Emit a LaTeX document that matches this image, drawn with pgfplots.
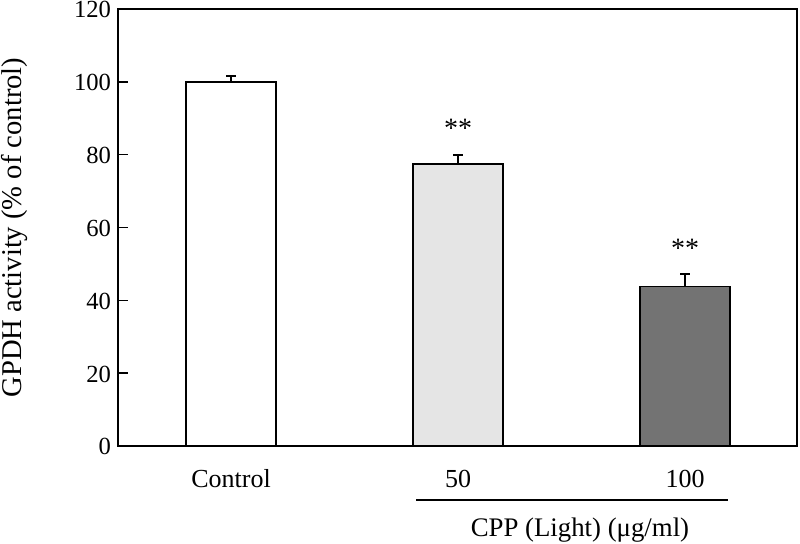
\documentclass[border=0pt]{standalone}
\usepackage{pgfplots}
\pgfplotsset{compat=1.18}
\usepackage{fontspec}
\setmainfont{Liberation Serif}
\begin{document}
\begin{tikzpicture}
\useasboundingbox (-59pt,-48.5pt) rectangle (341pt,223pt);
\begin{axis}[
  scale only axis,
  width=339.5pt, height=218.5pt,
  xmin=-0.498, xmax=2.493,
  ymin=0, ymax=120,
  ytick={0,20,40,60,80,100,120},
  xtick={0,1,2},
  xticklabels={Control,50,100},
  major x tick style={draw=none},
  ytick pos=left,
  tick align=inside,
  major tick length=5pt,
  axis line style={line width=0.8pt},
  every tick/.style={black, line width=0.7pt},
  /pgf/number format/assume math mode=true,
  yticklabel style={font=\fontsize{12.3}{14}\selectfont, yshift=-0.4pt},
  xticklabel style={font=\fontsize{13}{15}\selectfont, anchor=base, yshift=-20.5pt},
  ylabel={GPDH activity (\% of control)},
  ylabel style={at={(axis description cs:-0.152,0.5)}, anchor=center, rotate=0, font=\fontsize{14.3}{16}\selectfont},
  clip=false,
  bar width=0.396,
]
\addplot[ybar, draw=black, line width=0.75pt, fill=white,
  error bars/.cd, y dir=plus, y explicit,
  error bar style={line width=0.8pt},
  error mark options={rotate=90, mark size=2.5pt, line width=0.9pt}]
  coordinates {(0,100) +- (0,1.5)};
\addplot[ybar, draw=black, line width=0.75pt, fill=black!10,
  error bars/.cd, y dir=plus, y explicit,
  error bar style={line width=0.8pt},
  error mark options={rotate=90, mark size=2.5pt, line width=0.9pt}]
  coordinates {(1,77.5) +- (0,2.4)};
\addplot[ybar, draw=black, line width=0.75pt, fill=black!55,
  error bars/.cd, y dir=plus, y explicit,
  error bar style={line width=0.8pt},
  error mark options={rotate=90, mark size=2.5pt, line width=0.9pt}]
  coordinates {(2,43.8) +- (0,3.5)};
\node[font=\fontsize{14}{16}\selectfont] at (axis cs:1,87.2) {**};
\node[font=\fontsize{14}{16}\selectfont] at (axis cs:2,54.2) {**};
\draw[line width=0.6pt] (axis cs:0.815,-14.8) -- (axis cs:2.19,-14.8);
\node[anchor=base, font=\fontsize{13.4}{15}\selectfont] at (axis cs:1.537,-24.9) {CPP (Light) (μg/ml)};
\end{axis}
\end{tikzpicture}
\end{document}
